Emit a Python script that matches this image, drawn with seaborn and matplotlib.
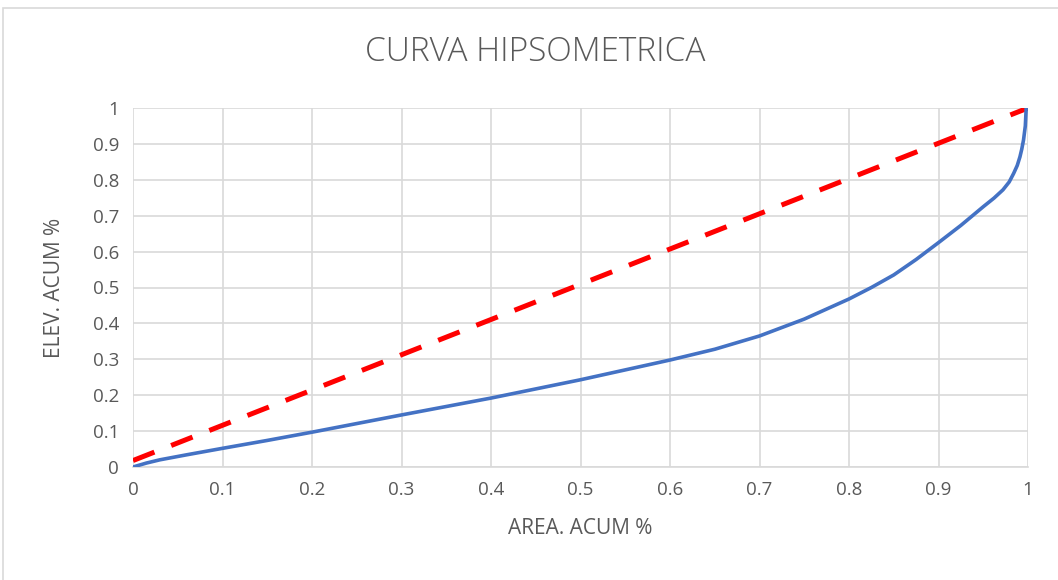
import matplotlib
matplotlib.use("Agg")
import matplotlib.pyplot as plt
import seaborn as sns
import pandas as pd
from matplotlib.patches import Rectangle

area_acum = [0.0, 0.015, 0.03, 0.06, 0.1, 0.15, 0.2, 0.3, 0.4, 0.5, 0.6, 0.65, 0.7, 0.75, 0.8, 0.825, 0.85, 0.875, 0.9, 0.925, 0.95, 0.962, 0.972, 0.979, 0.984, 0.988, 0.991, 0.993, 0.995, 0.997, 0.998]
elev_acum = [0.0, 0.011, 0.02, 0.034, 0.052, 0.074, 0.097, 0.145, 0.192, 0.243, 0.298, 0.328, 0.365, 0.412, 0.468, 0.5, 0.535, 0.578, 0.625, 0.673, 0.725, 0.749, 0.772, 0.794, 0.818, 0.84, 0.864, 0.885, 0.911, 0.95, 1.0]
ref_x = [0.0, 1.0]
ref_y = [0.018, 1.0]
ticks = [0, 0.1, 0.2, 0.3, 0.4, 0.5, 0.6, 0.7, 0.8, 0.9, 1]
tick_labels = ["0", "0.1", "0.2", "0.3", "0.4", "0.5", "0.6", "0.7", "0.8", "0.9", "1"]

sns.set_style("white")
plt.rcParams['font.family'] = ['Open Sans', 'DejaVu Sans']

fig = plt.figure(figsize=(10.58, 5.8), dpi=100)
ax = fig.add_axes([133/1058, 1-467/580, 895/1058, 359/580])

curve = pd.DataFrame({"x": area_acum, "y": elev_acum})
ref = pd.DataFrame({"x": ref_x, "y": ref_y})

sns.lineplot(data=ref, x="x", y="y", ax=ax, color="#FF0000", linewidth=3.6,
             linestyle=(0, (4.6, 3.6)), sort=False, zorder=3)
sns.lineplot(data=curve, x="x", y="y", ax=ax, color="#4472C4", linewidth=2.6,
             sort=False, zorder=4, solid_joinstyle="round", solid_capstyle="round")

ax.set_xlim(0, 1)
ax.set_ylim(0, 1)
ax.set_xticks(ticks)
ax.set_xticklabels(tick_labels)
ax.set_yticks(ticks)
ax.set_yticklabels(tick_labels)
ax.grid(True, color="#D9D9D9", linewidth=1.2)
ax.set_axisbelow(True)
for s in ["top", "right", "left"]:
    ax.spines[s].set_visible(False)
ax.spines["bottom"].set_color("#D9D9D9")
ax.spines["bottom"].set_linewidth(1.2)
ax.tick_params(axis="both", length=0, labelsize=13.5, colors="#595959", pad=10)
ax.set_xlabel("AREA. ACUM %", fontsize=15, color="#595959", labelpad=14)
ax.set_ylabel("ELEV. ACUM %", fontsize=15, color="#595959", labelpad=20)

fig.text(535/1058, 1-52/580, "CURVA HIPSOMETRICA", ha="center", va="center",
         fontsize=24, color="#595959", fontweight="light")

fig.patches.append(Rectangle((3/1058, -0.1), 1.0, 1.1-8/580, transform=fig.transFigure,
                             fill=False, edgecolor="#D9D9D9", linewidth=1.2))

fig.savefig("out.png", dpi=100)
